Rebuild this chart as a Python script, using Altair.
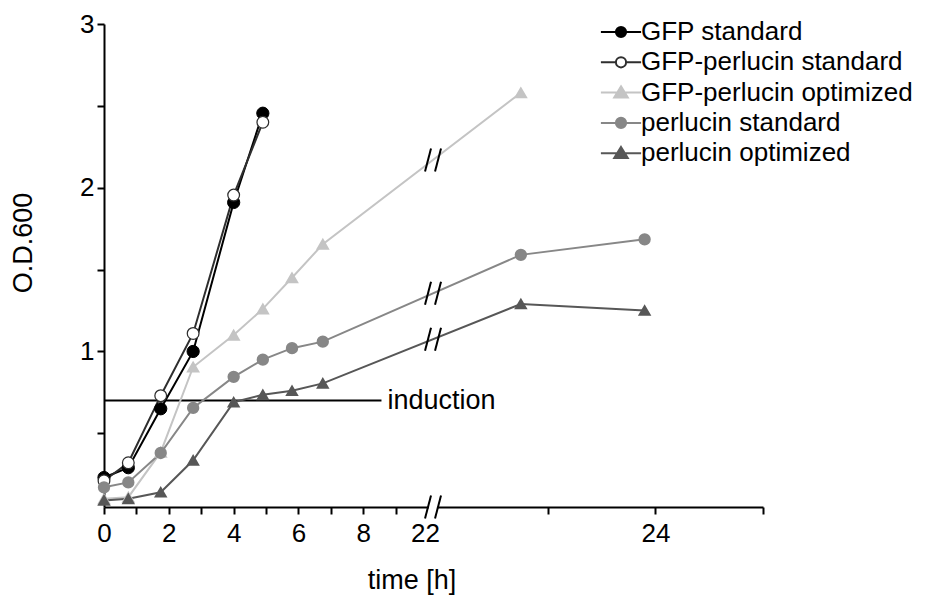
import altair as alt
import pandas as pd

# ---------------- data ----------------
SERIES = ["GFP standard", "GFP-perlucin standard", "GFP-perlucin optimized",
          "perlucin standard", "perlucin optimized"]

T_GFP_STD = [0, 0.75, 1.75, 2.75, 4.0, 4.9]
OD_GFP_STD = [0.23, 0.29, 0.65, 1.00, 1.91, 2.455]

T_GFPPERL_STD = [0, 0.75, 1.75, 2.75, 4.0, 4.9]
OD_GFPPERL_STD = [0.21, 0.32, 0.73, 1.11, 1.955, 2.40]

T_GFPPERL_OPT = [0, 0.75, 1.75, 2.75, 4.0, 4.9, 5.8, 6.75, 22.75]
OD_GFPPERL_OPT = [0.10, 0.11, 0.385, 0.905, 1.10, 1.26, 1.45, 1.655, 2.58]

T_PERL_STD = [0, 0.75, 1.75, 2.75, 4.0, 4.9, 5.8, 6.75, 22.75, 23.9]
OD_PERL_STD = [0.17, 0.20, 0.38, 0.655, 0.845, 0.95, 1.02, 1.06, 1.59, 1.685]

T_PERL_OPT = [0, 0.75, 1.75, 2.75, 4.0, 4.9, 5.8, 6.75, 22.75, 23.9]
OD_PERL_OPT = [0.09, 0.10, 0.14, 0.335, 0.69, 0.735, 0.76, 0.805, 1.29, 1.25]

INDUCTION_OD = 0.7
INDUCTION_LABEL = "induction"

X_TICK_TIMES_EARLY = [0, 1, 2, 3, 4, 5, 6, 7, 8, 9]
X_TICK_TIMES_LATE = [23, 24, 25]
X_LABELED = {0: "0", 2: "2", 4: "4", 6: "6", 8: "8", 24: "24"}
BREAK_LABEL = "22"
Y_TICKS = [0.5, 1, 1.5, 2, 2.5, 3]

# ---------------- broken-axis mapping ----------------
BREAK_POS = 10.15
LABEL22_POS = 9.9
SEG2_T0 = 23
SEG2_POS0 = 13.69
SEG2_SCALE = 3.32
X_END = SEG2_POS0 + (25 - SEG2_T0) * SEG2_SCALE
Y_MIN, Y_MAX = 0.05, 3.0
INDUCTION_END = 8.56


def to_pos(t):
    return t if t < BREAK_POS else SEG2_POS0 + (t - SEG2_T0) * SEG2_SCALE


COLORS_LINE = ["#000000", "#2e2e2e", "#c4c4c4", "#878787", "#575757"]
COLORS_FILL = ["#000000", "#ffffff", "#c4c4c4", "#878787", "#575757"]
SHAPES = ["circle", "circle", "triangle-up", "circle", "triangle-up"]
SIZES = [150, 100, 190, 150, 190]
STROKES = [1, 2, 1, 1, 1]

TIMES = [T_GFP_STD, T_GFPPERL_STD, T_GFPPERL_OPT, T_PERL_STD, T_PERL_OPT]
ODS = [OD_GFP_STD, OD_GFPPERL_STD, OD_GFPPERL_OPT, OD_PERL_STD, OD_PERL_OPT]

rows = []
for name, ts, vs in zip(SERIES, TIMES, ODS):
    for i, (t, v) in enumerate(zip(ts, vs)):
        rows.append({"series": name, "t": t, "od": v, "pos": round(to_pos(t), 4), "idx": i})
df = pd.DataFrame(rows)

# break marks ("//") on axis and on lines crossing the break
PX_X = 659 / X_END
PX_Y = 483 / (Y_MAX - Y_MIN)
SL_DX = 3.0 / PX_X
SL_DY = 11.5 / PX_Y
SL_GAP = 5.0 / PX_X

slashes = []
gaps = []


def add_break(yc):
    for off in (-SL_GAP, SL_GAP):
        xc = BREAK_POS + off
        slashes.append({"x": xc - SL_DX, "x2": xc + SL_DX, "y": yc - SL_DY, "y2": yc + SL_DY})


add_break(Y_MIN)
gaps.append({"x": BREAK_POS - SL_GAP + 0.02, "x2": BREAK_POS + SL_GAP - 0.02, "y": Y_MIN})
for name, ts, vs in zip(SERIES, TIMES, ODS):
    ps = [to_pos(t) for t in ts]
    for i in range(len(ps) - 1):
        if ps[i] < BREAK_POS < ps[i + 1]:
            f = (BREAK_POS - ps[i]) / (ps[i + 1] - ps[i])
            add_break(vs[i] + f * (vs[i + 1] - vs[i]))
df_sl = pd.DataFrame(slashes)
df_gap = pd.DataFrame(gaps)

df_ind = pd.DataFrame({"x": [0], "x2": [INDUCTION_END], "y": [INDUCTION_OD], "label": [INDUCTION_LABEL]})

# ---------------- axes ----------------
FONT = "Liberation Sans"
tick_pos = [round(float(t), 4) for t in X_TICK_TIMES_EARLY] + [LABEL22_POS] + \
           [round(to_pos(t), 4) for t in X_TICK_TIMES_LATE]
tick_lab = [X_LABELED.get(t, "") for t in X_TICK_TIMES_EARLY] + [BREAK_LABEL] + \
           [X_LABELED.get(t, "") for t in X_TICK_TIMES_LATE]
arr_pos = "[" + ",".join(repr(p) for p in tick_pos) + "]"
arr_lab = "[" + ",".join("'" + s + "'" for s in tick_lab) + "]"
x_label_expr = f"indexof({arr_pos}, datum.value) >= 0 ? {arr_lab}[indexof({arr_pos}, datum.value)] : ''"

x_scale = alt.Scale(domain=[0, X_END], nice=False, zero=False)
y_scale = alt.Scale(domain=[Y_MIN, Y_MAX], nice=False, zero=False)

x_axis = alt.Axis(
    values=tick_pos, labelExpr=x_label_expr, title="time [h]",
    domainColor="black", domainWidth=2, tickColor="black", tickWidth=2, tickSize=7,
    tickOpacity={"condition": {"test": f"datum.value == {LABEL22_POS}", "value": 0}, "value": 1},
    labelFont=FONT, labelFontSize=26, labelColor="black", labelPadding=6, labelFlush=False,
    labelOverlap=False,
    titleFont=FONT, titleFontSize=27, titleFontWeight="normal", titleColor="black",
    titleX=307.5, titleY=81, titleBaseline="alphabetic", titleAlign="center", grid=False,
)
y_axis = alt.Axis(
    values=Y_TICKS, labelExpr="datum.value % 1 == 0 ? format(datum.value, 'd') : ''", title="O.D.600",
    domainColor="black", domainWidth=2, tickColor="black", tickWidth=2, tickSize=7,
    labelFont=FONT, labelFontSize=26, labelColor="black", labelPadding=3, labelFlush=False,
    labelOverlap=False,
    titleFont=FONT, titleFontSize=27, titleFontWeight="normal", titleColor="black",
    titleX=-81, titleY=218.5, titleAngle=-90, titleBaseline="middle", titleAlign="center", grid=False,
)


def X(field):
    return alt.X(field, type="quantitative", scale=x_scale, axis=x_axis, title="time [h]")


def Y(field):
    return alt.Y(field, type="quantitative", scale=y_scale, axis=y_axis, title="O.D.600")


# ---------------- layers ----------------
induction_rule = alt.Chart(df_ind).mark_rule(color="black", strokeWidth=2).encode(
    x=X("x"), x2="x2:Q", y=Y("y"))
induction_text = alt.Chart(df_ind).mark_text(
    align="left", baseline="middle", dx=6, font=FONT, fontSize=27, color="black").encode(
    x=X("x2"), y=Y("y"), text="label:N")

lines = alt.Chart(df).mark_line(strokeWidth=2).encode(
    x=X("pos"), y=Y("od"),
    stroke=alt.Stroke("series:N", scale=alt.Scale(domain=SERIES, range=COLORS_LINE), legend=None),
    order="idx:Q",
)

points = alt.Chart(df).mark_point(filled=True, opacity=1).encode(
    x=X("pos"), y=Y("od"),
    shape=alt.Shape("series:N", scale=alt.Scale(domain=SERIES, range=SHAPES), legend=None),
    fill=alt.Fill("series:N", scale=alt.Scale(domain=SERIES, range=COLORS_FILL), legend=None),
    stroke=alt.Stroke("series:N", scale=alt.Scale(domain=SERIES, range=COLORS_LINE), legend=None),
    size=alt.Size("series:N", scale=alt.Scale(domain=SERIES, range=SIZES), legend=None),
    strokeWidth=alt.StrokeWidth("series:N", scale=alt.Scale(domain=SERIES, range=STROKES), legend=None),
)

gap = alt.Chart(df_gap).mark_rule(color="white", strokeWidth=5).encode(
    x=X("x"), x2="x2:Q", y=Y("y"))
breaks = alt.Chart(df_sl).mark_rule(color="black", strokeWidth=2).encode(
    x=X("x"), x2="x2:Q", y=Y("y"), y2="y2:Q")

# legend glyphs: a line with the marker on it
CIRC = "M-3.35,0L-0.85,0M0.85,0L3.35,0M-0.85,0A0.85,0.85,0,1,1,0.85,0A0.85,0.85,0,1,1,-0.85,0Z"
TRI = "M-3.35,0L-0.65,0M0.65,0L3.35,0M0,-1.05L1.13,0.8L-1.13,0.8Z"
LEG_SHAPES = [CIRC, CIRC, TRI, CIRC, TRI]
leg = alt.Legend(orient="none", legendX=504, legendY=-5, title=None,
                 labelFont=FONT, labelFontSize=26, labelColor="black", labelLimit=0,
                 symbolSize=144, symbolStrokeWidth=2, labelOffset=7, rowPadding=4.3)

legend_layer = alt.Chart(df).transform_filter("false").mark_point(
    filled=True, size=144, strokeWidth=2, opacity=1).encode(
    x=X("pos"), y=Y("od"),
    shape=alt.Shape("series:N", scale=alt.Scale(domain=SERIES, range=LEG_SHAPES), legend=leg),
    fill=alt.Fill("series:N", scale=alt.Scale(domain=SERIES, range=COLORS_FILL), legend=leg),
    stroke=alt.Stroke("series:N", scale=alt.Scale(domain=SERIES, range=COLORS_LINE), legend=leg),
)

chart = alt.layer(
    induction_rule, induction_text, lines, points, gap, breaks, legend_layer
).resolve_scale(
    shape="independent", fill="independent", stroke="independent"
).properties(
    width=659, height=483,
    autosize=alt.AutoSizeParams(type="none"),
    padding={"left": 96, "top": 16, "right": 160, "bottom": 88},
    background="white",
).configure_view(stroke=None, strokeWidth=0)

chart.save("out.html", embed_options={"renderer": "svg", "actions": False})
